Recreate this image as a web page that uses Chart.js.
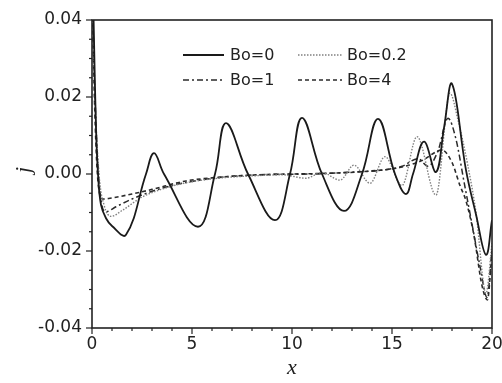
<!DOCTYPE html>
<html>
<head>
<meta charset="utf-8">
<script src="https://cdn.jsdelivr.net/npm/chart.js@4"></script>
<style>
  html, body { margin: 0; padding: 0; background: #fff; }
  #wrap { width: 502px; height: 383px; }
</style>
</head>
<body>
<div id="wrap"><canvas id="jChart" width="502" height="383"></canvas></div>
<script>
// values (x, j)
const bo0X = [0, 0.1, 0.2, 0.3, 0.45, 0.7, 1.0, 1.7, 2.7, 3.1, 3.6, 5.3, 6.15, 6.7, 7.8, 9.15, 9.9, 10.5, 11.5, 12.6, 13.5, 14.3, 15.15, 15.7, 16.05, 16.6, 17.2, 17.6, 18.0, 18.7, 19.2, 19.7, 20];
const bo0Y = [0.06, 0.035, 0.012, 0.0, -0.008, -0.0115, -0.0135, -0.0158, 0.0, 0.0054, 0.0, -0.0137, 0.0, 0.0132, 0.0, -0.012, 0.0, 0.0146, 0.0, -0.0096, 0.0, 0.0143, 0.0, -0.0052, 0.0, 0.0084, 0.0005, 0.012, 0.0234, 0.001, -0.0105, -0.021, -0.012];

const bo02X = [0, 0.15, 0.35, 0.6, 0.95, 1.5, 2.5, 3.9, 5, 6.5, 8, 9.5, 10.7, 11.5, 12.4, 13.1, 13.9, 14.65, 15.5, 16.25, 17.2, 17.9, 18.3, 18.8, 19.2, 19.7, 20];
const bo02Y = [0.05, 0.02, 0.0, -0.008, -0.011, -0.0095, -0.006, -0.0033, -0.002, -0.001, -0.0005, -0.0002, -0.0011, 0.0004, -0.0016, 0.0023, -0.0024, 0.0045, -0.003, 0.0097, -0.0055, 0.021, 0.014, 0.002, -0.010, -0.031, -0.018];

const bo1X = [0, 0.15, 0.35, 0.7, 1.2, 2, 3, 4, 5.5, 7, 9, 11, 13, 14.5, 15.5, 16.3, 16.8, 17.3, 17.8, 18.2, 18.6, 19, 19.4, 19.75, 20];
const bo1Y = [0.05, 0.02, -0.002, -0.0098, -0.0085, -0.0065, -0.0045, -0.003, -0.0015, -0.0006, -0.0001, 0.0, 0.0005, 0.001, 0.002, 0.004, 0.002, 0.006, 0.0145, 0.009, -0.002, -0.013, -0.024, -0.032, -0.02];

const bo4X = [0, 0.12, 0.3, 0.55, 1, 2, 3, 4.7, 6, 8, 10, 12, 14, 15.5, 16.5, 17.5, 18, 18.4, 18.7, 19.1, 19.5, 19.77, 20];
const bo4Y = [0.05, 0.02, -0.002, -0.0065, -0.0062, -0.0052, -0.004, -0.0018, -0.001, -0.0003, 0, 0.0002, 0.0008, 0.0018, 0.0035, 0.0062, 0.003, -0.003, -0.007, -0.016, -0.029, -0.0327, -0.02];

const seriesLabels = ['Bo=0', 'Bo=0.2', 'Bo=1', 'Bo=4'];
const xTickLabels = ['0', '5', '10', '15', '20'];
const yTickLabels = ['-0.04', '-0.02', '0.00', '0.02', '0.04'];

const TICK_FONT = { family: 'DejaVu Sans', size: 17 };
const INK = '#222';

function pts(xs, ys) {
    return xs.map((x, i) => ({ x: x, y: ys[i] }));
}

// little helper for dataset styling
function line(label, xs, ys, color, width, dash, mode) {
    return {
        label: label,
        data: pts(xs, ys),
        borderColor: color,
        borderWidth: width,
        borderDash: dash,
        pointRadius: 0,
        fill: false,
        tension: 0.4,
        cubicInterpolationMode: mode
    };
}

// frame, tick marks, axis titles and the 2x2 legend
const decorPlugin = {
    id: 'decor',
    afterDraw(chart) {
        const ctx = chart.ctx;
        const a = chart.chartArea;
        const xs = chart.scales.x;
        const ys = chart.scales.y;
        ctx.save();
        ctx.strokeStyle = INK;
        ctx.lineWidth = 1.6;
        ctx.strokeRect(a.left, a.top, a.right - a.left, a.bottom - a.top);

        ctx.lineWidth = 1.2;
        xs.ticks.forEach(t => {
            const px = xs.getPixelForValue(t.value);
            const len = (Math.abs(t.value % 5) < 1e-9) ? 6 : 3;
            ctx.beginPath();
            ctx.moveTo(px, a.bottom);
            ctx.lineTo(px, a.bottom + len);
            ctx.stroke();
        });
        ys.ticks.forEach(t => {
            const py = ys.getPixelForValue(t.value);
            const r = t.value / 0.02;
            const len = (Math.abs(r - Math.round(r)) < 1e-6) ? 6 : 3;
            ctx.beginPath();
            ctx.moveTo(a.left, py);
            ctx.lineTo(a.left - len, py);
            ctx.stroke();
        });

        // axis titles
        ctx.fillStyle = INK;
        ctx.font = 'italic 22px "Liberation Serif"';
        ctx.textAlign = 'center';
        ctx.textBaseline = 'middle';
        ctx.fillText('x', (a.left + a.right) / 2, 368);
        ctx.save();
        ctx.translate(24, 170);
        ctx.rotate(-Math.PI / 2);
        ctx.fillText('j', 0, 0);
        ctx.restore();

        // legend
        const colLine = [[183, 224], [298, 342]];
        const colText = [230, 347];
        const rowY = [55, 80];
        ctx.font = '16px "DejaVu Sans"';
        ctx.textAlign = 'left';
        chart.data.datasets.forEach((ds, i) => {
            const r = Math.floor(i / 2), c = i % 2;
            ctx.strokeStyle = ds.borderColor;
            ctx.lineWidth = ds.borderWidth;
            ctx.setLineDash(ds.borderDash || []);
            ctx.beginPath();
            ctx.moveTo(colLine[c][0], rowY[r]);
            ctx.lineTo(colLine[c][1], rowY[r]);
            ctx.stroke();
            ctx.setLineDash([]);
            ctx.fillStyle = INK;
            ctx.fillText(ds.label, colText[c], rowY[r] + 1);
        });
        ctx.restore();
    }
};

function initChart() {
    const ctx = document.getElementById('jChart').getContext('2d');
    new Chart(ctx, {
        type: 'line',
        data: {
            datasets: [
                line(seriesLabels[0], bo0X, bo0Y, '#1a1a1a', 1.8, [], 'default'),
                line(seriesLabels[1], bo02X, bo02Y, '#808080', 1.4, [1.5, 1.5], 'monotone'),
                line(seriesLabels[2], bo1X, bo1Y, '#2a2a2a', 1.5, [6, 3, 2, 3], 'monotone'),
                line(seriesLabels[3], bo4X, bo4Y, '#2a2a2a', 1.6, [4, 3], 'monotone')
            ]
        },
        options: {
            responsive: false,
            animation: false,
            events: [],
            layout: { padding: { left: 0, top: 20, right: 10, bottom: 0 } },
            plugins: { legend: { display: false }, tooltip: { enabled: false } },
            scales: {
                x: {
                    type: 'linear',
                    min: 0,
                    max: 20,
                    grid: { display: false, drawTicks: false },
                    border: { display: false },
                    ticks: {
                        stepSize: 1,
                        autoSkip: false,
                        maxRotation: 0,
                        padding: 6,
                        color: INK,
                        font: TICK_FONT,
                        callback: v => {
                            const s = String(Math.round(v));
                            return (Math.abs(v % 5) < 1e-9 && xTickLabels.includes(s)) ? s : '';
                        }
                    },
                    afterFit: s => { s.height = 55; s.paddingLeft = 0; s.paddingRight = 0; }
                },
                y: {
                    min: -0.04,
                    max: 0.04,
                    grid: { display: false, drawTicks: false },
                    border: { display: false },
                    ticks: {
                        stepSize: 0.005,
                        autoSkip: false,
                        padding: 10,
                        color: INK,
                        font: TICK_FONT,
                        callback: v => {
                            const r = v / 0.02;
                            if (Math.abs(r - Math.round(r)) > 1e-6) return '';
                            const s = (Math.round(r) * 0.02).toFixed(2);
                            return yTickLabels.includes(s) ? s : (s === '-0.00' ? '0.00' : '');
                        }
                    },
                    afterFit: s => { s.width = 92; s.paddingTop = 0; s.paddingBottom = 0; }
                }
            }
        },
        plugins: [decorPlugin]
    });
}

initChart();
</script>
</body>
</html>
